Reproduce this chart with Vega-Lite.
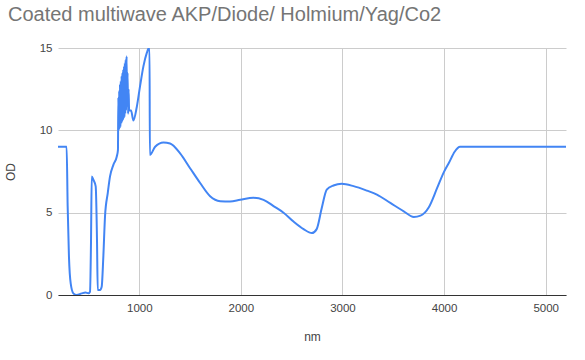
{
  "$schema": "https://vega.github.io/schema/vega-lite/v6.json",
  "width": 508,
  "height": 247,
  "autosize": {"type": "none"},
  "padding": {"left": 58, "top": 48, "right": 19, "bottom": 65},
  "background": "white",
  "title": {
    "text": "Coated multiwave AKP/Diode/ Holmium/Yag/Co2",
    "anchor": "start",
    "frame": "group",
    "dx": -50,
    "offset": 17,
    "font": "Liberation Sans",
    "fontSize": 20,
    "fontWeight": "normal",
    "color": "#757575"
  },
  "config": {
    "view": {"stroke": null},
    "axis": {
      "labelFont": "Liberation Sans",
      "titleFont": "Liberation Sans",
      "labelColor": "#444444",
      "titleColor": "#444444",
      "labelFontSize": 11.5,
      "titleFontSize": 12,
      "titleFontWeight": "normal",
      "gridColor": "#cccccc",
      "ticks": false
    }
  },
  "data": {
    "values": [
      {"nm": 200, "od": 9.0},
      {"nm": 285, "od": 9.0},
      {"nm": 295, "od": 5.4},
      {"nm": 308, "od": 2.3},
      {"nm": 325, "od": 0.7},
      {"nm": 351, "od": 0.1},
      {"nm": 384, "od": 0.0},
      {"nm": 433, "od": 0.1},
      {"nm": 470, "od": 0.15},
      {"nm": 499, "od": 0.1},
      {"nm": 515, "od": 0.2},
      {"nm": 525, "od": 3.3},
      {"nm": 532, "od": 7.2},
      {"nm": 548, "od": 7.0},
      {"nm": 571, "od": 6.6},
      {"nm": 584, "od": 3.3},
      {"nm": 591, "od": 0.3},
      {"nm": 614, "od": 0.3},
      {"nm": 630, "od": 0.5},
      {"nm": 646, "od": 2.3},
      {"nm": 663, "od": 4.8},
      {"nm": 690, "od": 6.2},
      {"nm": 712, "od": 7.2},
      {"nm": 745, "od": 7.9},
      {"nm": 778, "od": 8.4},
      {"nm": 790, "od": 8.8},
      {"nm": 794, "od": 12.0},
      {"nm": 798, "od": 10.0},
      {"nm": 802, "od": 12.4},
      {"nm": 806, "od": 10.1},
      {"nm": 810, "od": 12.8},
      {"nm": 814, "od": 10.2},
      {"nm": 818, "od": 13.0},
      {"nm": 822, "od": 10.4},
      {"nm": 826, "od": 13.3},
      {"nm": 830, "od": 10.5},
      {"nm": 834, "od": 13.5},
      {"nm": 838, "od": 10.6},
      {"nm": 842, "od": 13.7},
      {"nm": 846, "od": 10.7},
      {"nm": 850, "od": 13.9},
      {"nm": 854, "od": 10.8},
      {"nm": 858, "od": 14.1},
      {"nm": 862, "od": 11.0},
      {"nm": 866, "od": 14.3},
      {"nm": 870, "od": 11.2},
      {"nm": 875, "od": 14.5},
      {"nm": 880, "od": 11.5},
      {"nm": 885, "od": 13.5},
      {"nm": 890, "od": 11.0},
      {"nm": 895, "od": 12.5},
      {"nm": 900, "od": 11.2},
      {"nm": 919, "od": 11.2},
      {"nm": 942, "od": 10.6},
      {"nm": 975, "od": 11.4},
      {"nm": 1008, "od": 12.7},
      {"nm": 1041, "od": 13.9},
      {"nm": 1074, "od": 14.7},
      {"nm": 1094, "od": 15.0},
      {"nm": 1101, "od": 15.0},
      {"nm": 1104, "od": 8.5},
      {"nm": 1156, "od": 9.0},
      {"nm": 1238, "od": 9.26},
      {"nm": 1303, "od": 9.2},
      {"nm": 1402, "od": 8.6},
      {"nm": 1500, "od": 7.7},
      {"nm": 1599, "od": 6.8},
      {"nm": 1697, "od": 6.0},
      {"nm": 1796, "od": 5.7},
      {"nm": 1894, "od": 5.68},
      {"nm": 1993, "od": 5.78},
      {"nm": 2124, "od": 5.9},
      {"nm": 2223, "od": 5.78},
      {"nm": 2321, "od": 5.4},
      {"nm": 2420, "od": 5.0},
      {"nm": 2518, "od": 4.46},
      {"nm": 2617, "od": 4.0},
      {"nm": 2699, "od": 3.76},
      {"nm": 2746, "od": 4.0},
      {"nm": 2796, "od": 5.28},
      {"nm": 2845, "od": 6.4},
      {"nm": 2911, "od": 6.65},
      {"nm": 2993, "od": 6.75},
      {"nm": 3109, "od": 6.61},
      {"nm": 3240, "od": 6.34},
      {"nm": 3339, "od": 6.1},
      {"nm": 3471, "od": 5.59},
      {"nm": 3603, "od": 5.08},
      {"nm": 3702, "od": 4.74},
      {"nm": 3768, "od": 4.82},
      {"nm": 3850, "od": 5.33},
      {"nm": 3932, "od": 6.5},
      {"nm": 3998, "od": 7.46},
      {"nm": 4048, "od": 8.03},
      {"nm": 4104, "od": 8.7},
      {"nm": 4157, "od": 9.0},
      {"nm": 5201, "od": 9.0}
    ]
  },
  "mark": {"type": "line", "color": "#4285f4", "strokeWidth": 2, "clip": true, "interpolate": "monotone"},
  "encoding": {
    "x": {
      "field": "nm",
      "type": "quantitative",
      "title": "nm",
      "scale": {"domain": [200, 5200], "nice": false, "zero": false},
      "axis": {
        "values": [1000, 2000, 3000, 4000, 5000],
        "format": "d",
        "labelPadding": 7,
        "titlePadding": 18,
        "domain": true,
        "domainColor": "#333333",
        "domainWidth": 1
      }
    },
    "y": {
      "field": "od",
      "type": "quantitative",
      "title": "OD",
      "scale": {"domain": [0, 15], "nice": false},
      "axis": {
        "values": [0, 5, 10, 15],
        "labelPadding": 6,
        "titlePadding": 22,
        "domain": false
      }
    }
  }
}
